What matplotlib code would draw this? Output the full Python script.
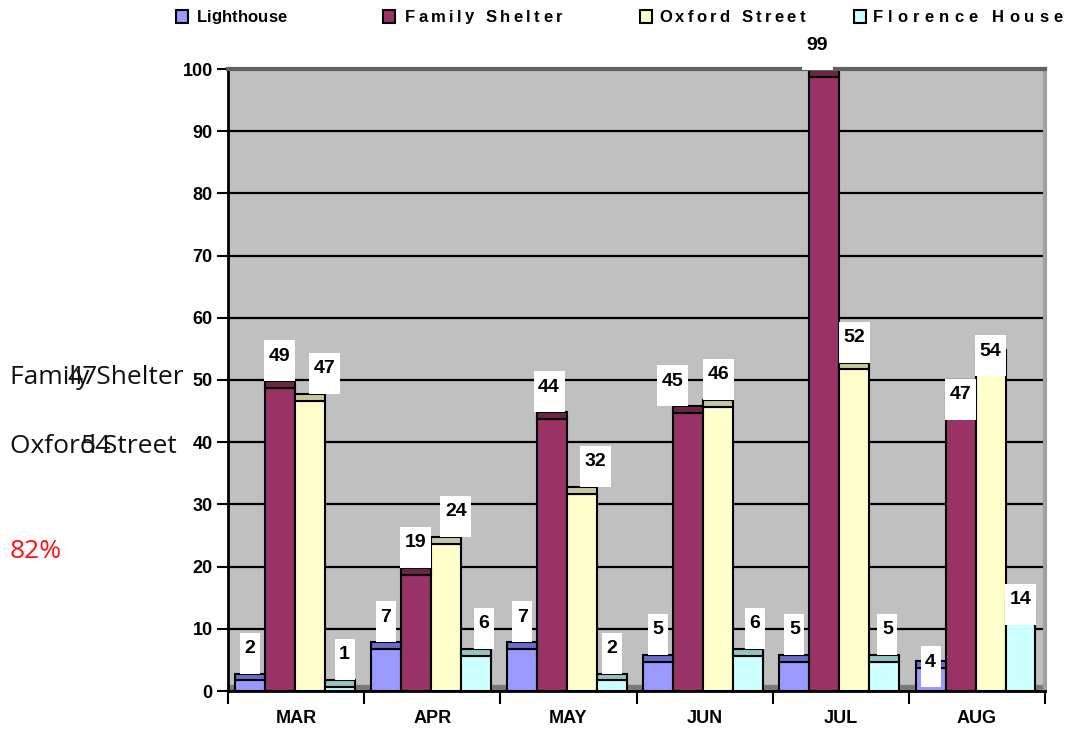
import matplotlib
matplotlib.use("Agg")
import matplotlib.pyplot as plt
import matplotlib.transforms as mtransforms
from matplotlib.patches import Rectangle
import numpy as np

# ── data ──
months = ["MAR", "APR", "MAY", "JUN", "JUL", "AUG"]
series_names = ["Lighthouse", "Family Shelter", "Oxford Street", "Florence House"]
lighthouse = [2, 7, 7, 5, 5, 4]
family_shelter = [49, 19, 44, 45, 99, 47]
oxford_street = [47, 24, 32, 46, 52, 54]
florence_house = [1, 6, 2, 6, 5, 14]
y_ticks = [0, 10, 20, 30, 40, 50, 60, 70, 80, 90, 100]

# stray text boxes left of the chart
stray_texts = ["Family Shelter", "Oxford Street", "82%"]
stray_numbers = ["47", "54"]

# ── style ──
face_colors = ["#9999FF", "#993366", "#FFFFCC", "#CCFFFF"]
cap_colors = ["#6B6BCC", "#6E2447", "#C8C8A0", "#93C4C4"]
BOLD = ["Liberation Sans", "DejaVu Sans"]
NARROW = ["Liberation Sans Narrow", "Liberation Sans", "DejaVu Sans"]
LIGHT = ["Open Sans", "Lato", "DejaVu Sans"]

# label nudges in pixels (series index, month index) -> dx
label_dx = {(2, 0): 15, (3, 0): 5, (2, 1): 10, (3, 1): 8, (2, 2): 13,
            (1, 3): -16, (3, 3): 7, (1, 4): -7, (3, 4): 3, (1, 2): -3}
sink_months = {5: 21}  # labels centred on the bar top

W, H, DPI = 1065, 733, 100


def px(x, y):
    return x / W, 1 - y / H


fig = plt.figure(figsize=(W / DPI, H / DPI), dpi=DPI)
ax = fig.add_axes([228 / W, 1 - 691 / H, (1045 - 228) / W, (691 - 69) / H])
ax.set_facecolor("#C0C0C0")
ax.set_xlim(-0.5, len(months) - 0.5)
ax.set_ylim(0, 100)

ax.set_axisbelow(True)
ax.yaxis.grid(True, color="black", lw=1.6)
ax.axhspan(0, 0.9, color="#7A7A7A", zorder=1)

data = [lighthouse, family_shelter, oxford_street, florence_house]
x = np.arange(len(months))
bw = 0.22
for si, vals in enumerate(data):
    xs = x - 0.01 + (si - 1.5) * bw
    vals = np.array(vals, dtype=float)
    ax.bar(xs, vals - 0.3, width=bw, color=face_colors[si],
           edgecolor="black", lw=1.5, zorder=2)
    ax.bar(xs, np.full_like(vals, 1.1), bottom=vals - 0.3, width=bw,
           color=cap_colors[si], edgecolor="black", lw=1.5, zorder=2.1)
    for mi, (xc, v) in enumerate(zip(xs, vals)):
        txt = f"{int(v)}"
        bwid = 20 if len(txt) == 1 else 31
        bh = 41
        dx = label_dx.get((si, mi), 0)
        sink = sink_months.get(mi, 0)
        top = v + 0.8 if mi not in sink_months else v
        trans = fig.dpi_scale_trans + mtransforms.ScaledTranslation(xc, top, ax.transData)
        ax.add_patch(Rectangle(((dx - bwid / 2) / DPI, -sink / DPI), bwid / DPI, bh / DPI,
                               transform=trans, facecolor="white", edgecolor="none",
                               zorder=5, clip_on=False))
        ax.text(dx / DPI, (bh - 16 - sink) / DPI, txt, transform=trans,
                ha="center", va="center", fontsize=14, fontweight="bold",
                family=BOLD, zorder=6, clip_on=False)

# axes frame
for s in ["left", "bottom"]:
    ax.spines[s].set_linewidth(2)
    ax.spines[s].set_color("black")
ax.spines["top"].set_color("#606060")
ax.spines["top"].set_linewidth(3)
ax.spines["right"].set_color("#A0A0A0")
ax.spines["right"].set_linewidth(3)

ax.set_yticks(y_ticks)
ax.set_yticklabels([str(t) for t in y_ticks], fontsize=13, fontweight="bold", family=BOLD)
ax.tick_params(axis="y", direction="out", length=8, width=1.5, pad=3)
ax.set_xticks(x)
ax.set_xticklabels(months, fontsize=13, fontweight="bold", family=BOLD)
ax.tick_params(axis="x", which="major", length=0, pad=14)
ax.set_xticks(np.arange(-0.5, len(months)), minor=True)
ax.tick_params(axis="x", which="minor", direction="out", length=9, width=1.5)

# ── legend (drawn by hand, letter-spaced like the original) ──
renderer = fig.canvas.get_renderer()
leg_fs = 12


def measure(s):
    t = fig.text(0, 0, s, fontsize=leg_fs, fontweight="bold", family=NARROW)
    w = t.get_window_extent(renderer).width
    t.remove()
    return w


def tracked_text(s, x0, x1, y):
    base = measure("xx")
    adv = [measure("x" + c + "x") - base for c in s]
    extra = max(0.0, (x1 - x0 - sum(adv)) / max(1, len(s) - 1))
    xc = x0
    for c, a in zip(s, adv):
        fig.text(*px(xc, y), c, fontsize=leg_fs, fontweight="bold",
                 family=NARROW, ha="left", va="center")
        xc += a + extra


leg_sq = [176, 383, 640, 854]
leg_txt = [(197, 270), (405, 562), (659, 805), (873, 1063)]
for i, name in enumerate(series_names):
    fig.patches.append(Rectangle(px(leg_sq[i], 23), 12 / W, 13 / H,
                                 transform=fig.transFigure, facecolor=face_colors[i],
                                 edgecolor="black", lw=1.5))
    tracked_text(name, leg_txt[i][0], leg_txt[i][1], 17)

# ── stray texts on the left ──
stray_kw = dict(fontsize=19, fontweight="normal", family=LIGHT, va="center")
fig.text(*px(10, 378), stray_texts[0], ha="left", color="#111111", **stray_kw)
fig.text(*px(82, 378), stray_numbers[0], ha="center", color="#111111", **stray_kw)
fig.text(*px(10, 447), stray_texts[1], ha="left", color="#111111", **stray_kw)
fig.text(*px(95, 447), stray_numbers[1], ha="center", color="#111111", **stray_kw)
fig.text(*px(10, 552), stray_texts[2], ha="left", color="#FF1010", **stray_kw)

fig.savefig("out.png", dpi=DPI)
